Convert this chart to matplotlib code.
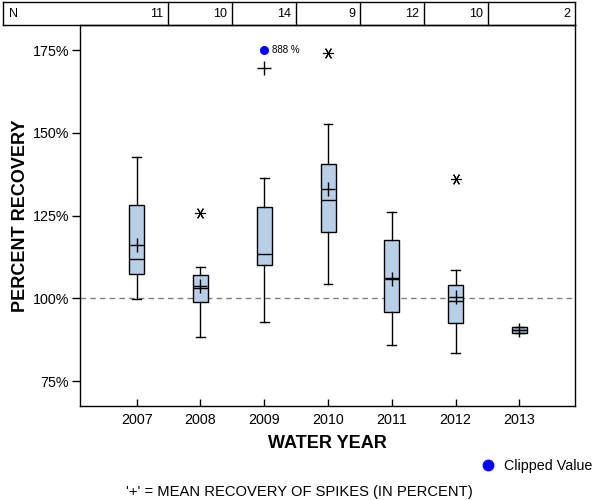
import matplotlib
matplotlib.use("Agg")
import matplotlib.pyplot as plt
from matplotlib.lines import Line2D

plt.rcParams['font.family'] = ['Liberation Sans', 'DejaVu Sans']

years = [2007, 2008, 2009, 2010, 2011, 2012, 2013]
n_counts = [11, 10, 14, 9, 12, 10, 2]
whislo = [99.9, 88.2, 92.8, 104.2, 85.9, 83.4, 89.4]
q1 = [107.5, 98.8, 110.0, 120.0, 95.8, 92.5, 89.4]
med = [111.8, 103.0, 113.3, 129.7, 106.3, 99.1, 90.4]
q3 = [128.1, 107.2, 127.5, 140.5, 117.5, 103.9, 91.5]
whishi = [142.7, 109.4, 136.2, 152.7, 126.0, 108.5, 91.5]
means = [116.1, 103.8, 169.6, 133.0, 106.0, 100.3, 90.4]
outliers = [[], [125.8], [], [174.1], [], [135.9], []]
clipped_year = [2009]
clipped_plot = [175.0]
clipped_label = ['888 %']
yticks = [75, 100, 125, 150, 175]

fig = plt.figure(figsize=(6, 5), dpi=100)
ax = fig.add_axes([80/600, 1-406/500, 495/600, 381/500])

stats = []
for i in range(len(years)):
    stats.append(dict(med=med[i], q1=q1[i], q3=q3[i], whislo=whislo[i],
                      whishi=whishi[i], mean=means[i], fliers=[]))

ax.bxp(stats, positions=years, widths=0.235, patch_artist=True,
       showmeans=True, showfliers=False, capwidths=0.14,
       boxprops=dict(facecolor='#b9cfe7', edgecolor='black', linewidth=1.0),
       medianprops=dict(color='black', linewidth=1.0),
       whiskerprops=dict(color='black', linewidth=1.0),
       capprops=dict(color='black', linewidth=1.0),
       meanprops=dict(marker='+', markeredgecolor='black', markersize=10,
                      markeredgewidth=1.0), zorder=3)

for x, outs in zip(years, outliers):
    for v in outs:
        ax.plot([x], [v], linestyle='none', marker=(6, 2, 90), markersize=8,
                color='black', markeredgewidth=0.8, zorder=4)

for x, v, lab in zip(clipped_year, clipped_plot, clipped_label):
    ax.plot([x], [v], linestyle='none', marker='o', markersize=5.5,
            color='blue', zorder=4)
    ax.annotate(lab, (x, v), xytext=(5.5, 0), textcoords='offset points',
                fontsize=7, va='center', ha='left')

ax.axhline(100, color='#808080', linestyle=(0, (4, 3)), linewidth=1.0, zorder=1)

ax.set_xlim(2006.111, 2013.873)
ax.set_ylim(67.5, 182.55)
ax.set_xticks(years)
ax.set_xticklabels([str(y) for y in years], fontsize=10.3)
ax.set_yticks(yticks)
ax.set_yticklabels([f'{v}%' for v in yticks], fontsize=10.3)
ax.tick_params(axis='x', direction='in', length=5, width=1, pad=5)
ax.tick_params(axis='y', direction='out', length=6, width=1, pad=2)
for s in ax.spines.values():
    s.set_linewidth(1.0)

ax.set_xlabel('WATER YEAR', fontsize=13, fontweight='bold', labelpad=6)
ax.set_ylabel('PERCENT RECOVERY', fontsize=13, fontweight='bold')
ax.yaxis.set_label_coords(-0.103, 0.5)

# N table
def fx(px):
    return px / 600
def fy(py):
    return 1 - py / 500

edges = [3, 168, 232, 296, 360, 424, 488, 575]
top, bot = 2, 25
fig.add_artist(Line2D([fx(3), fx(575)], [fy(top), fy(top)], color='black', lw=1))
fig.add_artist(Line2D([fx(3), fx(575)], [fy(bot), fy(bot)], color='black', lw=1))
for e in edges:
    fig.add_artist(Line2D([fx(e), fx(e)], [fy(top), fy(bot)], color='black', lw=1))
fig.text(fx(9), fy(14), 'N', fontsize=9, va='center', ha='left')
for i, n in enumerate(n_counts):
    fig.text(fx(edges[i+1] - 5), fy(14), str(n), fontsize=9, va='center', ha='right')

# legend for clipped value
fig.add_artist(Line2D([fx(488)], [fy(464.5)], marker='o', markersize=7.5,
                      color='blue', linestyle='none'))
fig.text(fx(504), fy(466), 'Clipped Value', fontsize=10.3, va='center', ha='left')

fig.text(fx(299), fy(492), "'+' = MEAN RECOVERY OF SPIKES (IN PERCENT)",
         fontsize=10.6, va='center', ha='center')

fig.savefig('out.png', dpi=100)
